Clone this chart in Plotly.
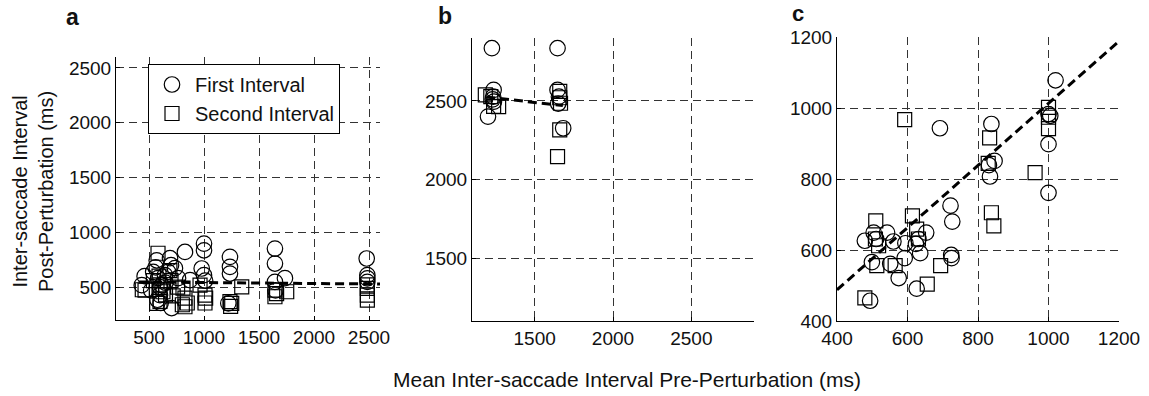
import plotly.graph_objects as go

W, H = 1149, 396

# ---------------- data ----------------
# Panel a
a_circ_x = [434, 460, 538, 570, 582, 600, 615, 645, 673, 691, 706, 736, 764, 827, 873, 1000, 1000, 979, 1000,
            1236, 1236, 1236, 1221, 1645, 1645, 1736, 1645, 2479, 2485, 2485, 2485, 560, 600, 650, 700, 520,
            1010, 1650, 576, 606]
a_circ_y = [518, 600, 639, 745, 582, 427, 518, 609, 639, 764, 309, 673, 582, 821, 564, 897, 836, 670, 609,
            776, 685, 624, 352, 852, 715, 582, 548, 761, 609, 580, 548, 680, 500, 540, 700, 470,
            560, 470, 385, 355]
a_sq_x = [439, 464, 570, 582, 591, 600, 600, 627, 650, 700, 720, 760, 803, 809, 827, 827, 848, 964, 1009, 1009,
          1015, 1236, 1242, 1252, 1343, 1645, 1645, 1660, 1752, 2485, 2485, 2485, 2485, 540, 690]
a_sq_y = [476, 473, 352, 809, 600, 370, 520, 458, 430, 560, 420, 500, 339, 491, 400, 321, 355, 518, 427, 355,
          400, 367, 324, 352, 503, 473, 412, 440, 458, 488, 427, 382, 520, 560, 650]
a_fit_x = [410, 2600]
a_fit_y = [547, 528]

# Panel b
b_circ_x = [1227, 1646, 1202, 1238, 1235, 1240, 1646, 1655, 1650, 1682, 1232]
b_circ_y = [2835, 2835, 2400, 2570, 2527, 2495, 2570, 2527, 2483, 2326, 2510]
b_sq_x = [1185, 1220, 1238, 1270, 1660, 1660, 1665, 1660, 1646]
b_sq_y = [2538, 2527, 2465, 2464, 2560, 2520, 2485, 2315, 2146]
b_fit_x = [1190, 1680]
b_fit_y = [2525, 2470]

# Panel c
c_circ_x = [1020, 692, 838, 1000, 1005, 1000, 1000, 847, 831, 834, 722, 727, 724, 725, 479, 504, 542, 560,
            499, 494, 575, 592, 551, 594, 624, 636, 653, 626, 511, 631]
c_circ_y = [1078, 943, 955, 983, 978, 898, 761, 851, 839, 807, 725, 680, 586, 577, 626, 649, 649, 624,
            566, 457, 521, 577, 561, 619, 617, 591, 649, 491, 631, 631]
c_sq_x = [592, 833, 829, 1000, 1000, 1000, 962, 838, 845, 614, 631, 626, 510, 509, 518, 513, 565, 694, 656, 479]
c_sq_y = [967, 916, 844, 1002, 974, 942, 818, 705, 668, 696, 631, 659, 682, 631, 612, 556, 556, 556, 504, 465]
c_fit_x = [400, 1200]
c_fit_y = [488, 1188]

a_ticks = [500, 1000, 1500, 2000, 2500]
b_ticks = [1500, 2000, 2500]
c_ticks = [400, 600, 800, 1000, 1200]

# ---------------- figure ----------------
FONT = "Liberation Sans, Arial, Helvetica, sans-serif"
fig = go.Figure()

circ = dict(symbol="circle-open", size=15.5, color="black", line=dict(width=1.2, color="black"))
sq = dict(symbol="square-open", size=14, color="black", line=dict(width=1.2, color="black"))
fitline = dict(color="black", width=3, dash="9px,5px")

panels = [
    ("x", "y", a_circ_x, a_circ_y, a_sq_x, a_sq_y, a_fit_x, a_fit_y, True),
    ("x2", "y2", b_circ_x, b_circ_y, b_sq_x, b_sq_y, b_fit_x, b_fit_y, False),
    ("x3", "y3", c_circ_x, c_circ_y, c_sq_x, c_sq_y, c_fit_x, c_fit_y, False),
]
for xa, ya, cx, cy, sx, sy, fx, fy, leg in panels:
    fig.add_trace(go.Scatter(x=cx, y=cy, mode="markers", marker=circ, name="First Interval",
                             showlegend=leg, xaxis=xa, yaxis=ya, cliponaxis=False))
    fig.add_trace(go.Scatter(x=sx, y=sy, mode="markers", marker=sq, name="Second Interval",
                             showlegend=leg, xaxis=xa, yaxis=ya, cliponaxis=False))
    fig.add_trace(go.Scatter(x=fx, y=fy, mode="lines", line=fitline, showlegend=False,
                             xaxis=xa, yaxis=ya, hoverinfo="skip"))


def px_x(p):
    return p / W


def px_y(p):
    return 1 - p / H


common = dict(showline=True, linecolor="black", linewidth=1, mirror=False, automargin=False,
              ticks="inside", ticklen=4, tickcolor="black", tickwidth=1,
              showgrid=True, gridcolor="#333333", gridwidth=1, griddash="8px,5px",
              zeroline=False, tickfont=dict(family=FONT, size=19, color="#111"),
              tickmode="array", fixedrange=True)

fig.update_layout(
    xaxis=dict(common, domain=[px_x(116), px_x(380)], range=[200, 2600], tickvals=a_ticks, anchor="y"),
    yaxis=dict(common, domain=[px_y(320), px_y(57)], range=[200, 2600], tickvals=a_ticks, anchor="x"),
    xaxis2=dict(common, domain=[px_x(472), px_x(754)], range=[1100, 2900], tickvals=b_ticks, anchor="y2"),
    yaxis2=dict(common, domain=[px_y(321), px_y(38)], range=[1100, 2900], tickvals=b_ticks, anchor="x2"),
    xaxis3=dict(common, domain=[px_x(837), px_x(1119)], range=[400, 1200], tickvals=c_ticks, anchor="y3"),
    yaxis3=dict(common, domain=[px_y(321), px_y(37)], range=[400, 1200], tickvals=c_ticks, anchor="x3"),
)


def ann(text, x, y, size, angle=0):
    return dict(text=text, x=px_x(x), y=px_y(y), xref="paper", yref="paper", showarrow=False,
                xanchor="center", yanchor="middle", textangle=angle,
                font=dict(family=FONT, size=size, color="#111"))


fig.update_layout(
    width=W, height=H,
    margin=dict(l=0, r=0, t=0, b=0, autoexpand=False),
    paper_bgcolor="white", plot_bgcolor="white",
    font=dict(family=FONT, color="#111"),
    showlegend=True,
    legend=dict(x=px_x(148), y=px_y(64), xanchor="left", yanchor="top",
                bgcolor="white", bordercolor="black", borderwidth=1, itemwidth=36,
                font=dict(family=FONT, size=20, color="#111"), tracegroupgap=0),
    annotations=[
        ann("<b>a</b>", 72, 17, 23),
        ann("<b>b</b>", 445, 16, 23),
        ann("<b>c</b>", 798, 13, 22),
        ann("Inter-saccade Interval<br>Post-Perturbation (ms)", 33, 192, 20, -90),
        ann("Mean Inter-saccade Interval Pre-Perturbation (ms)", 627, 379, 21),
    ],
)

fig.write_html("out.html")
